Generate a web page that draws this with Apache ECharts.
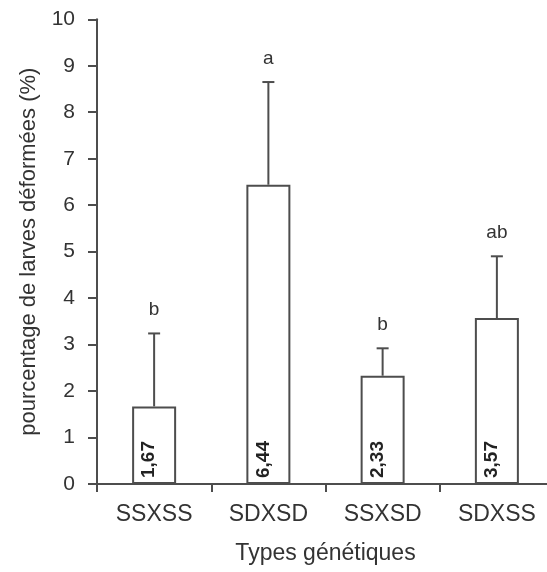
<!DOCTYPE html>
<html><head><meta charset="utf-8">
<script src="https://cdn.jsdelivr.net/npm/echarts@6/dist/echarts.min.js"></script>
<style>html,body{margin:0;padding:0;background:#fff}#c{width:547px;height:572px}</style>
</head><body><div id="c"></div>
<script>
const categories = ['SSXSS', 'SDXSD', 'SSXSD', 'SDXSS'];
const means = [1.67, 6.44, 2.33, 3.57];
const errorTops = [3.24, 8.65, 2.92, 4.90];
const letters = ['b', 'a', 'b', 'ab'];
const yMin = 0, yMax = 10, yStep = 1;

const lineColor = '#4d4d4d';
const textColor = '#333';
const font = '"Liberation Sans", Arial, sans-serif';

const errData = categories.map((c, i) => [i, means[i], errorTops[i], letters[i]]);

const chart = echarts.init(document.getElementById('c'), null, {renderer: 'canvas'});
chart.setOption({
  backgroundColor: '#fff',
  animation: false,
  grid: {left: 97, top: 19.3, width: 457, height: 464.7, containLabel: false, outerBoundsMode: 'none'},
  xAxis: {
    type: 'category',
    data: categories,
    name: 'Types génétiques',
    nameLocation: 'middle',
    nameGap: 58,
    nameTextStyle: {fontFamily: font, fontSize: 23, color: textColor, lineHeight: 23},
    axisLine: {lineStyle: {color: lineColor, width: 2}},
    axisTick: {show: true, length: 8, interval: 0, lineStyle: {color: lineColor, width: 2}},
    axisLabel: {fontFamily: font, fontSize: 23, color: textColor, margin: 19, interval: 0},
    splitLine: {show: false}
  },
  yAxis: {
    type: 'value',
    min: yMin, max: yMax, interval: yStep,
    name: 'pourcentage de larves déformées (%)',
    nameLocation: 'middle',
    nameGap: 58,
    nameRotate: 90,
    nameTextStyle: {fontFamily: font, fontSize: 22, color: textColor, lineHeight: 21},
    axisLine: {show: true, lineStyle: {color: lineColor, width: 2}},
    axisTick: {show: true, length: 9, lineStyle: {color: lineColor, width: 2}},
    axisLabel: {fontFamily: font, fontSize: 21, color: textColor, margin: 22},
    splitLine: {show: false}
  },
  series: [
    {
      type: 'bar',
      data: means,
      barWidth: 44,
      itemStyle: {color: '#fff', borderColor: lineColor, borderWidth: 2},
      label: {
        show: true,
        position: 'insideBottom',
        rotate: 90,
        align: 'left',
        verticalAlign: 'middle',
        distance: 6,
        offset: [0, -5],
        fontFamily: font,
        fontSize: 19,
        fontWeight: 'bold',
        color: '#222',
        formatter: p => String(p.value.toFixed(2)).replace('.', ',')
      },
      z: 2
    },
    {
      type: 'custom',
      data: errData,
      encode: {x: 0, y: 2},
      z: 3,
      renderItem: function (params, api) {
        const i = api.value(0);
        const p0 = api.coord([i, api.value(1)]);
        const p1 = api.coord([i, api.value(2)]);
        const letter = letters[params.dataIndex];
        const half = 6;
        const st = {stroke: lineColor, lineWidth: 2};
        return {
          type: 'group',
          children: [
            {type: 'line', shape: {x1: p0[0], y1: p0[1], x2: p1[0], y2: p1[1]}, style: st},
            {type: 'line', shape: {x1: p1[0] - half, y1: p1[1], x2: p1[0] + half, y2: p1[1]}, style: st},
            {type: 'text', x: p1[0], y: p1[1] - 14,
              style: {text: letter, fontFamily: font, fontSize: 19, fill: textColor, align: 'center', verticalAlign: 'bottom'}}
          ]
        };
      }
    }
  ]
});
</script></body></html>
